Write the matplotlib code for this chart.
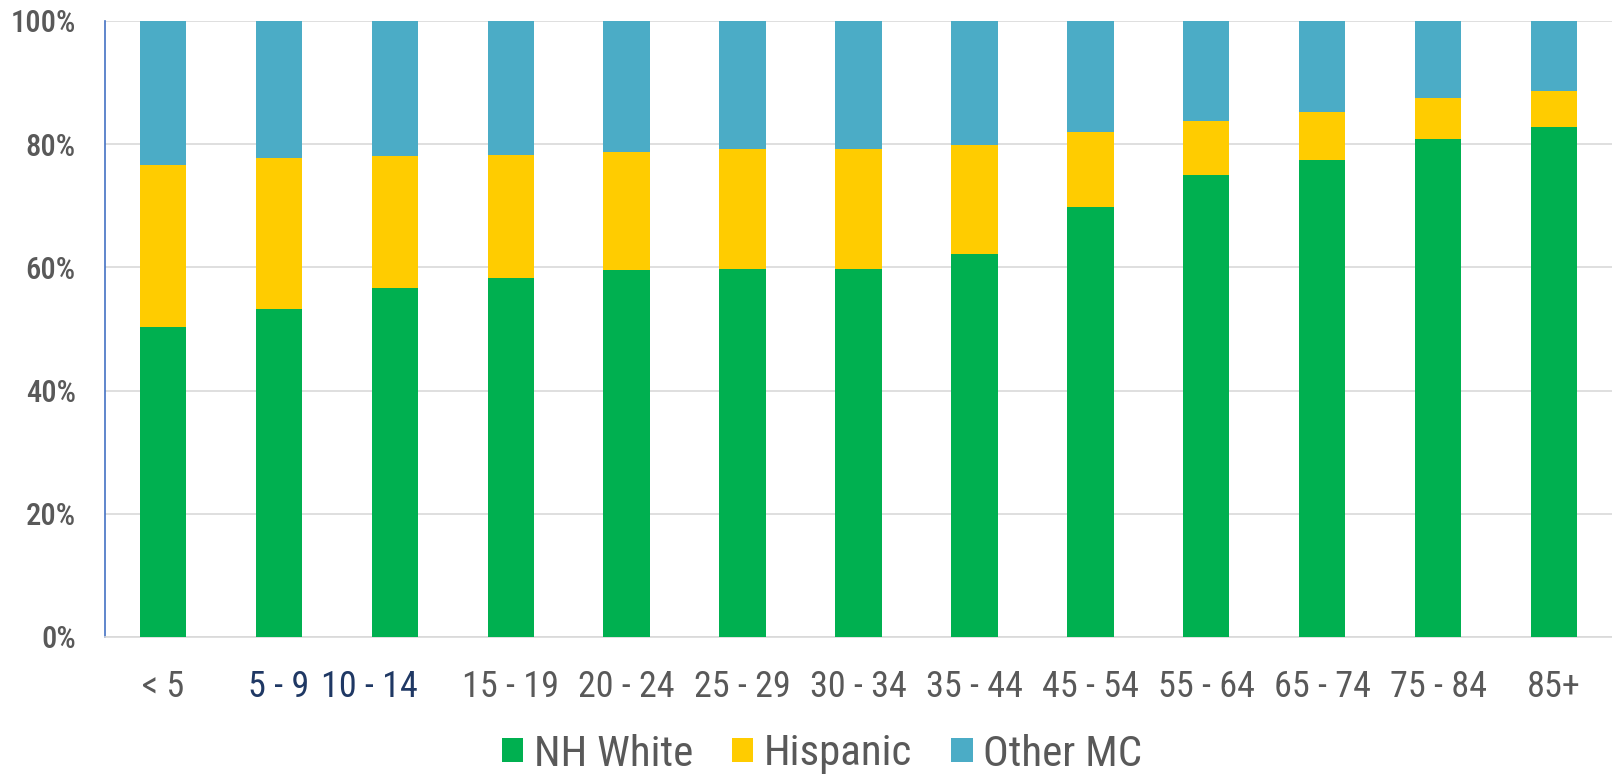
import matplotlib
matplotlib.use("Agg")
import matplotlib.pyplot as plt
import numpy as np
from matplotlib.transforms import ScaledTranslation

categories = ["< 5", "5 - 9", "10 - 14", "15 - 19", "20 - 24", "25 - 29", "30 - 34",
              "35 - 44", "45 - 54", "55 - 64", "65 - 74", "75 - 84", "85+"]
nh_white = [50.4, 53.3, 56.7, 58.2, 59.5, 59.7, 59.7, 62.1, 69.8, 75.0, 77.4, 80.8, 82.8]
hispanic_cum = [76.6, 77.8, 78.1, 78.3, 78.8, 79.2, 79.2, 79.9, 82.0, 83.8, 85.3, 87.5, 88.7]
hispanic = [h - w for h, w in zip(hispanic_cum, nh_white)]
other_mc = [100 - h for h in hispanic_cum]
yticks = [0, 20, 40, 60, 80, 100]
ytick_labels = ["0%", "20%", "40%", "60%", "80%", "100%"]
series_names = ["NH White", "Hispanic", "Other MC"]

colors = ["#00B050", "#FFCC00", "#4BACC6"]
plt.rcParams['font.family'] = ["Roboto Condensed", "DejaVu Sans"]

fig = plt.figure(figsize=(16.12, 7.74), dpi=100)
ax = fig.add_axes([105/1612, 1 - 637/774, 1 - 105/1612, (637 - 21)/774])

x = np.arange(len(categories))
w = 0.4
b1 = ax.bar(x, nh_white, w, color=colors[0], label=series_names[0], zorder=3)
b2 = ax.bar(x, hispanic, w, bottom=nh_white, color=colors[1], label=series_names[1], zorder=3)
b3 = ax.bar(x, other_mc, w, bottom=hispanic_cum, color=colors[2], label=series_names[2], zorder=3)

ax.set_xlim(-0.5, len(categories) - 0.5)
ax.set_ylim(0, 100)
ax.set_yticks(yticks)
ax.set_yticklabels(ytick_labels, fontsize=22, color="#595959", fontweight="medium")
ax.set_xticks(x)
ax.set_xticklabels(categories, fontsize=26, color="#595959")
ax.tick_params(axis="both", length=0)
ax.tick_params(axis="y", pad=21)
ax.tick_params(axis="x", pad=23)
ax.yaxis.grid(True, color="#D9D9D9", linewidth=1.2, zorder=0)
ax.set_axisbelow(True)
for s in ["top", "right"]:
    ax.spines[s].set_visible(False)
ax.spines["left"].set_color("#4472C4")
ax.spines["left"].set_linewidth(1.2)
ax.spines["bottom"].set_color("#D9D9D9")
ax.spines["bottom"].set_linewidth(1.2)

labels = ax.get_xticklabels()
for i in (1, 2):
    labels[i].set_color("#1F3864")
labels[2].set_transform(labels[2].get_transform() + ScaledTranslation(-0.25, 0, fig.dpi_scale_trans))

leg = fig.legend(handles=[b1, b2, b3], labels=series_names, loc="center",
                 bbox_to_anchor=(0.51, 1 - 754/774), ncol=3, frameon=False,
                 fontsize=31, handlelength=0.5, handleheight=0.5,
                 handletextpad=0.25, columnspacing=0.9, labelcolor="#595959")

fig.savefig("out.png", dpi=100)
